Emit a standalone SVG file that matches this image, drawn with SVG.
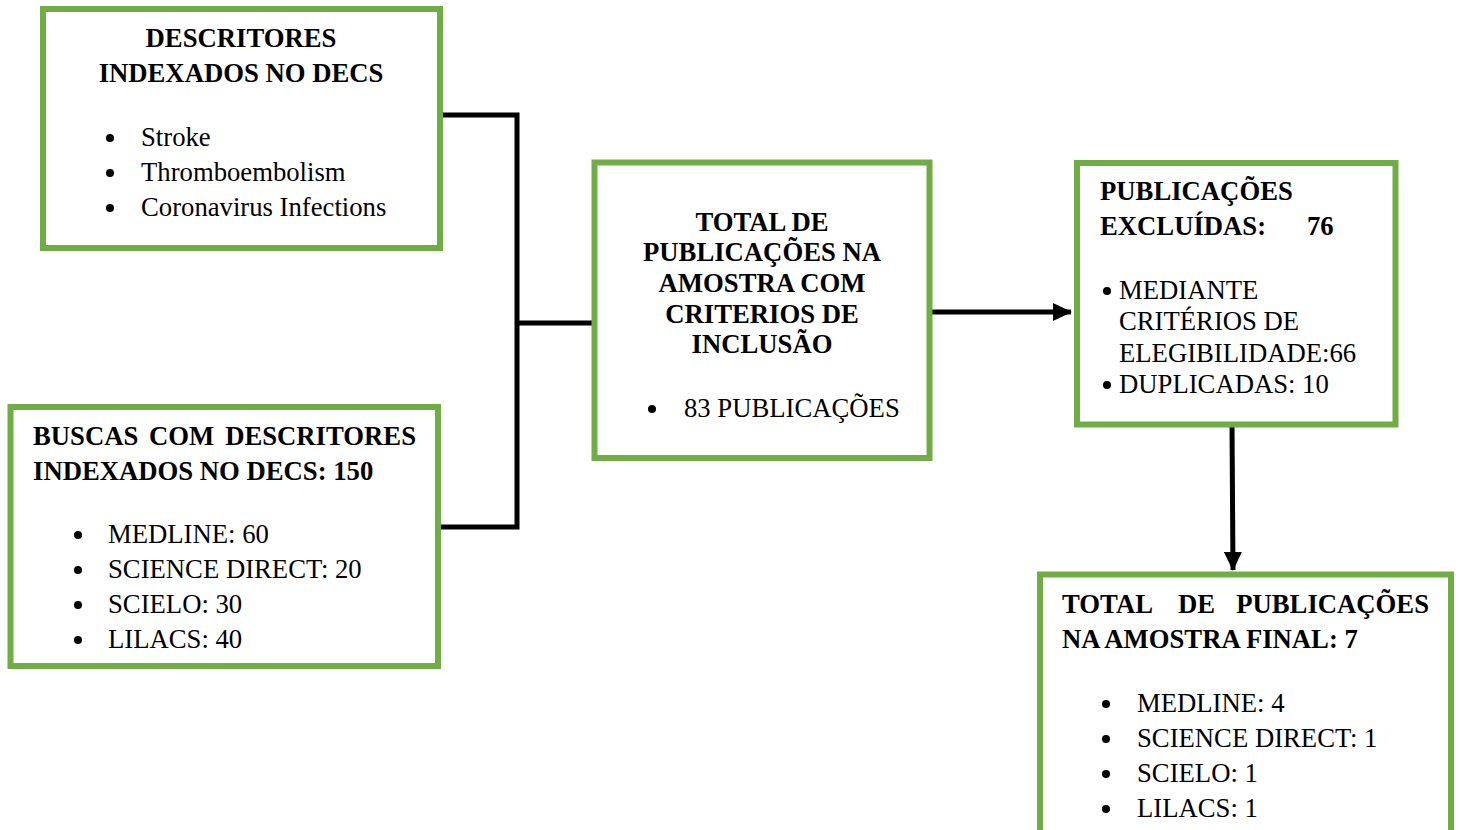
<svg xmlns="http://www.w3.org/2000/svg" width="1459" height="830" viewBox="0 0 1459 830">
<style>
.box{fill:#fff;stroke:#70AD47;stroke-width:6}
text{font-family:"Liberation Serif","Times New Roman",serif;font-size:26.7px;fill:#000}
.b{font-weight:bold}
.c{text-anchor:middle}
.e{text-anchor:end}
.ln{fill:none;stroke:#000;stroke-width:5}
.dot{fill:#000}
</style>
<defs>
<marker id="ah" markerUnits="userSpaceOnUse" markerWidth="20" markerHeight="18" refX="18" refY="9" orient="auto">
<path d="M0,0 L19,9 L0,18 Z" fill="#000"/>
</marker>
</defs>
<g id="connectors">
<polyline class="ln" points="440,115 517,115 517,527 438,527"/>
<line class="ln" x1="517" y1="323" x2="594" y2="323"/>
<line class="ln" x1="929" y1="312" x2="1071" y2="312" marker-end="url(#ah)"/>
<line class="ln" x1="1232" y1="425" x2="1233" y2="570" marker-end="url(#ah)"/>
</g>
<g id="descritores">
<rect class="box" x="43" y="9" width="397" height="239"/>
<text class="b c" x="241" y="47">DESCRITORES</text>
<text class="b c" x="241" y="82">INDEXADOS NO DECS</text>
<circle class="dot" cx="110" cy="138" r="4"/>
<circle class="dot" cx="110" cy="173" r="4"/>
<circle class="dot" cx="110" cy="208" r="4"/>
<text x="141" y="146">Stroke</text>
<text x="141" y="181">Thromboembolism</text>
<text x="141" y="216">Coronavirus Infections</text>
</g>
<g id="buscas">
<rect class="box" x="10.5" y="407" width="427.5" height="259"/>
<text class="b" x="33" y="445">BUSCAS</text>
<text class="b" x="149" y="445">COM</text>
<text class="b e" x="416" y="445">DESCRITORES</text>
<text class="b" x="33" y="480">INDEXADOS NO DECS: 150</text>
<circle class="dot" cx="78" cy="535" r="4"/>
<circle class="dot" cx="78" cy="570" r="4"/>
<circle class="dot" cx="78" cy="605" r="4"/>
<circle class="dot" cx="78" cy="640" r="4"/>
<text x="108" y="543">MEDLINE: 60</text>
<text x="108" y="578">SCIENCE DIRECT: 20</text>
<text x="108" y="613">SCIELO: 30</text>
<text x="108" y="648">LILACS: 40</text>
</g>
<g id="total-inclusao">
<rect class="box" x="594.5" y="162.5" width="335" height="295.5"/>
<text class="b c" x="762" y="231">TOTAL DE</text>
<text class="b c" x="762" y="261">PUBLICAÇÕES NA</text>
<text class="b c" x="762" y="292">AMOSTRA COM</text>
<text class="b c" x="762" y="323">CRITERIOS DE</text>
<text class="b c" x="762" y="353">INCLUSÃO</text>
<circle class="dot" cx="652" cy="409" r="4"/>
<text x="684" y="417">83 PUBLICAÇÕES</text>
</g>
<g id="excluidas">
<rect class="box" x="1077" y="163" width="318.5" height="261.5"/>
<text class="b" x="1100" y="200">PUBLICAÇÕES</text>
<text class="b" x="1100" y="235">EXCLUÍDAS:</text>
<text class="b" x="1307" y="235">76</text>
<circle class="dot" cx="1107" cy="291" r="4"/>
<circle class="dot" cx="1107" cy="385" r="4"/>
<text x="1119" y="299">MEDIANTE</text>
<text x="1119" y="330">CRITÉRIOS DE</text>
<text x="1119" y="362">ELEGIBILIDADE:66</text>
<text x="1119" y="393">DUPLICADAS: 10</text>
</g>
<g id="total-final">
<rect class="box" x="1040" y="574.5" width="411" height="270"/>
<text class="b" x="1062" y="613">TOTAL</text>
<text class="b" x="1178" y="613">DE</text>
<text class="b e" x="1429" y="613">PUBLICAÇÕES</text>
<text class="b" x="1062" y="648">NA AMOSTRA FINAL: 7</text>
<circle class="dot" cx="1106" cy="704" r="4"/>
<circle class="dot" cx="1106" cy="739" r="4"/>
<circle class="dot" cx="1106" cy="774" r="4"/>
<circle class="dot" cx="1106" cy="809" r="4"/>
<text x="1137" y="712">MEDLINE: 4</text>
<text x="1137" y="747">SCIENCE DIRECT: 1</text>
<text x="1137" y="782">SCIELO: 1</text>
<text x="1137" y="817">LILACS: 1</text>
</g>
</svg>
